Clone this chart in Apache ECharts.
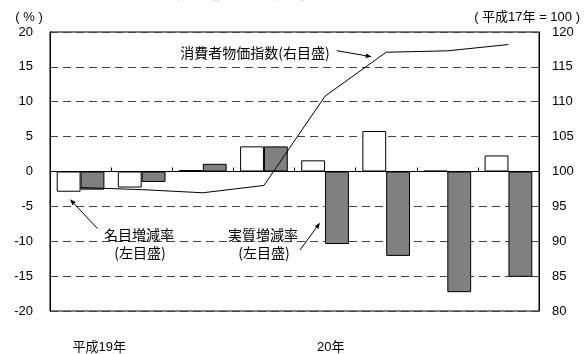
<!DOCTYPE html>
<html>
<head>
<meta charset="utf-8">
<script src="https://cdn.jsdelivr.net/npm/echarts@6/dist/echarts.min.js"></script>
<style>
  html, body { margin: 0; padding: 0; background: #fff; }
  #chart { width: 584px; height: 354px; }
</style>
</head>
<body>
<div id="chart"></div>
<script>
// Quarterly periods, year labels shown under the first quarter of each year
const categories = ['Q1', 'Q2', 'Q3', 'Q4', 'Q1', 'Q2', 'Q3', 'Q4'];
const yearLabels = ['平成19年', '', '', '', '20年', '', '', ''];

// Nominal and real rates of change (%, left scale)
const nominalRate = [-2.9, -2.3, 0.2, 3.6, 1.6, 5.8, 0.1, 2.3];
const realRate = [-2.6, -1.5, 1.1, 3.6, -10.4, -12.1, -17.3, -15.1];

// Consumer price index (平成17年 = 100, right scale)
const cpi = [97.7, 97.4, 96.95, 98.0, 110.8, 117.1, 117.3, 118.2];

const leftTicks = { min: -20, max: 20, interval: 5 };
const rightTicks = { min: 80, max: 120, interval: 5 };

const FONT = '"Liberation Sans", "Noto Sans CJK JP", sans-serif';
const JP_FONT = '"Noto Sans CJK JP", sans-serif';

// Straight leader line with a small filled arrowhead at (x2, y2)
function arrow(x1, y1, x2, y2) {
  const dx = x2 - x1, dy = y2 - y1;
  const len = Math.sqrt(dx * dx + dy * dy);
  const ux = dx / len, uy = dy / len;
  const hl = 6, hw = 2.3;
  const bx = x2 - ux * hl, by = y2 - uy * hl;
  return [
    { type: 'line', shape: { x1: x1, y1: y1, x2: bx, y2: by },
      style: { stroke: '#000', lineWidth: 1 }, z: 100 },
    { type: 'polygon',
      shape: { points: [[x2, y2], [bx - uy * hw, by + ux * hw], [bx + uy * hw, by - ux * hw]] },
      style: { fill: '#000' }, z: 100 }
  ];
}

function label(text, x, y, align) {
  return { type: 'text', x: x, y: y, z: 100,
    style: { text: text, font: '14px ' + JP_FONT, fill: '#000',
             textAlign: align || 'center', textVerticalAlign: 'middle' } };
}

const chart = echarts.init(document.getElementById('chart'));

chart.setOption({
  animation: false,
  backgroundColor: '#fff',
  textStyle: { fontFamily: FONT },
  grid: { left: 50, right: 45, top: 32, bottom: 42, show: true,
          borderColor: '#000', borderWidth: 1, backgroundColor: 'transparent' },
  xAxis: [
    {
      type: 'category', data: categories, boundaryGap: true,
      axisLine: { onZero: true, onZeroAxisIndex: 0, lineStyle: { color: '#000', width: 1 } },
      axisTick: { show: true, inside: true, length: 4, lineStyle: { color: '#000' } },
      axisLabel: { show: false }
    },
    {
      type: 'category', data: yearLabels, position: 'bottom', boundaryGap: true,
      axisLine: { show: false }, axisTick: { show: false },
      axisLabel: { show: true, interval: 0, margin: 30, align: 'left',
                   padding: [0, 0, 0, -8],
                   fontSize: 13, color: '#000', fontFamily: FONT }
    }
  ],
  yAxis: [
    {
      type: 'value', min: leftTicks.min, max: leftTicks.max, interval: leftTicks.interval,
      axisLine: { show: true, lineStyle: { color: '#000' } },
      axisTick: { show: false },
      axisLabel: { color: '#000', fontSize: 13, margin: 17, fontFamily: FONT },
      splitLine: { show: true, lineStyle: { color: '#444', type: [8, 5], width: 1 } }
    },
    {
      type: 'value', min: rightTicks.min, max: rightTicks.max, interval: rightTicks.interval,
      axisLine: { show: true, lineStyle: { color: '#000' } },
      axisTick: { show: false },
      axisLabel: { color: '#000', fontSize: 13, margin: 13, fontFamily: FONT },
      splitLine: { show: false }
    }
  ],
  series: [
    {
      name: '名目増減率', type: 'bar', data: nominalRate, xAxisIndex: 0, yAxisIndex: 0,
      barGap: '0%', barCategoryGap: '22%',
      itemStyle: { color: '#fff', borderColor: '#000', borderWidth: 1 }
    },
    {
      name: '実質増減率', type: 'bar', data: realRate, xAxisIndex: 0, yAxisIndex: 0,
      barGap: '0%', barCategoryGap: '22%',
      itemStyle: { color: '#808080', borderColor: '#000', borderWidth: 1 }
    },
    {
      name: '消費者物価指数', type: 'line', data: cpi, xAxisIndex: 0, yAxisIndex: 1,
      symbol: 'none', z: 5,
      lineStyle: { color: '#000', width: 1 }
    }
  ],
  graphic: [
    { type: 'text', x: 253, y: -7, z: 100,
      style: { text: '名目・実質賃金増減率と消費者物価指数の推移', font: 'bold 13px ' + JP_FONT,
               fill: '#000', textAlign: 'center', textVerticalAlign: 'middle' } },
    { type: 'text', x: 29, y: 17, z: 100,
      style: { text: '( % )', font: '13px ' + FONT, fill: '#000',
               textAlign: 'center', textVerticalAlign: 'middle' } },
    { type: 'text', x: 580, y: 17, z: 100,
      style: { text: '( 平成17年 = 100 )', font: '13px ' + FONT, fill: '#000',
               textAlign: 'right', textVerticalAlign: 'middle' } },
    label('消費者物価指数(右目盛)', 255, 53),
    label('名目増減率', 139, 235),
    label('(左目盛)', 140, 253),
    label('実質増減率', 263, 235),
    label('(左目盛)', 264, 253)
  ].concat(
    arrow(336.7, 50.7, 371.7, 56.7),
    arrow(97.3, 228.3, 70, 199.3),
    arrow(300, 250, 320, 222.7)
  )
});
</script>
</body>
</html>
